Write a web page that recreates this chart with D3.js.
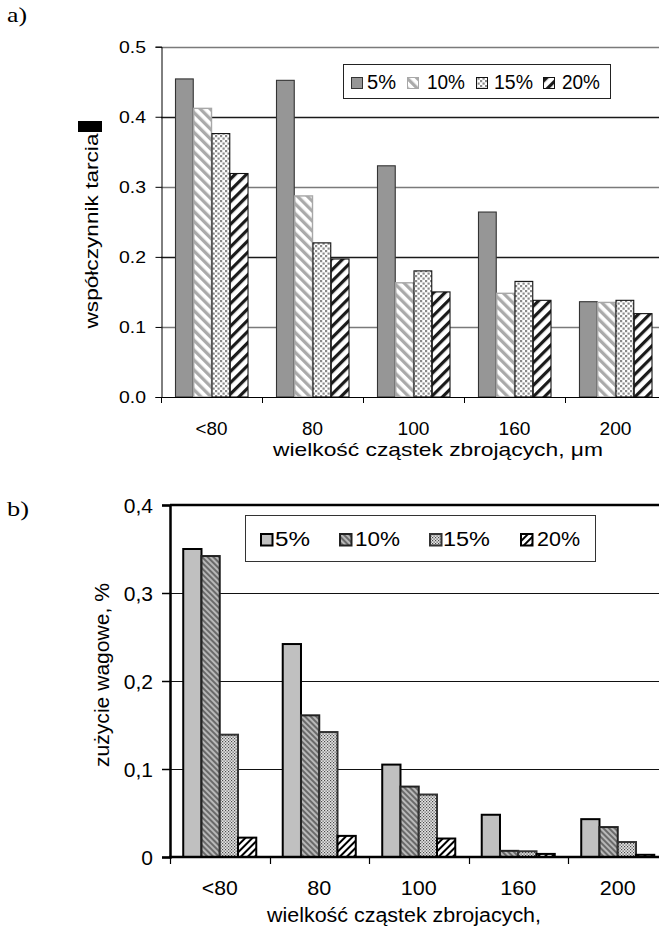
<!DOCTYPE html>
<html><head><meta charset="utf-8">
<script src="https://cdn.jsdelivr.net/npm/d3@7"></script>
<style>html,body{margin:0;padding:0;background:#fff}svg{display:block}</style>
</head><body>
<svg id="c" width="659" height="933"></svg>
<script>
// ---- data ----
const categories = ["<80", "80", "100", "160", "200"];
const seriesNames = ["5%", "10%", "15%", "20%"];
// a) friction coefficient
const friction5  = [0.454, 0.452, 0.330, 0.264, 0.136];
const friction10 = [0.412, 0.287, 0.163, 0.148, 0.135];
const friction15 = [0.376, 0.220, 0.180, 0.165, 0.138];
const friction20 = [0.319, 0.197, 0.150, 0.138, 0.119];
// b) weight loss
const wear5  = [0.350, 0.242, 0.105, 0.048, 0.043];
const wear10 = [0.342, 0.161, 0.080, 0.007, 0.034];
const wear15 = [0.139, 0.142, 0.071, 0.0065, 0.017];
const wear20 = [0.022, 0.024, 0.021, 0.0035, 0.0025];
const ticksA = [0, 0.1, 0.2, 0.3, 0.4, 0.5];
const tickLabelsA = ["0.0", "0.1", "0.2", "0.3", "0.4", "0.5"];
const ticksB = [0, 0.1, 0.2, 0.3, 0.4];
const tickLabelsB = ["0", "0,1", "0,2", "0,3", "0,4"];

const svg = d3.select("#c");
const defs = svg.append("defs");
const SANS = "Liberation Sans, Arial, Helvetica, sans-serif";
const SERIF = "Liberation Serif, Times New Roman, serif";

function stripes(id, w, lw, fg, bg, angle) {
  const p = defs.append("pattern").attr("id", id).attr("patternUnits", "userSpaceOnUse")
    .attr("width", w).attr("height", w).attr("patternTransform", `rotate(${angle})`);
  p.append("rect").attr("width", w).attr("height", w).attr("fill", bg);
  p.append("rect").attr("x", 0).attr("width", lw).attr("height", w).attr("fill", fg);
}
function dots(id, w, s, fg, bg) {
  const p = defs.append("pattern").attr("id", id).attr("patternUnits", "userSpaceOnUse")
    .attr("width", w).attr("height", w);
  p.append("rect").attr("width", w).attr("height", w).attr("fill", bg);
  p.append("rect").attr("x", 0).attr("y", 0).attr("width", s).attr("height", s).attr("fill", fg);
  p.append("rect").attr("x", w / 2).attr("y", w / 2).attr("width", s).attr("height", s).attr("fill", fg);
}
stripes("a10", 7, 3.3, "#aaaaaa", "#ffffff", -45);
dots("a15", 5, 2.2, "#8a8a8a", "#ffffff");
stripes("a20", 8, 3.2, "#1a1a1a", "#ffffff", 45);
stripes("b10", 4, 2, "#6a6a6a", "#b8b8b8", -45);
dots("b15", 3, 1.2, "#4a4a4a", "#e4e4e4");
stripes("b20", 5, 2, "#000000", "#ffffff", 45);

function txt(g, x, y, s, o) {
  const t = g.append("text").attr("x", x).attr("y", y).text(s)
    .attr("font-family", o.family || SANS).attr("font-size", o.size)
    .attr("fill", "#000").attr("text-anchor", o.anchor || "start");
  if (o.len) t.attr("textLength", o.len).attr("lengthAdjust", "spacingAndGlyphs");
  if (o.rot) t.attr("transform", `rotate(${o.rot},${x},${y})`);
  return t;
}

// ================= chart a =================
(function () {
  const g = svg.append("g");
  const x0 = d3.scaleBand().domain(categories).range([161, 666]).paddingInner(0.277).paddingOuter(0.1386);
  const x1 = d3.scaleBand().domain(seriesNames).range([0, x0.bandwidth()]);
  const y = d3.scaleLinear().domain([0, 0.5]).range([397, 46.7]);
  const data = [friction5, friction10, friction15, friction20];
  const fills = ["#969696", "url(#a10)", "url(#a15)", "url(#a20)"];
  const strokes = ["#333", "#a8a8a8", "#111", "#111"];

  // gridlines
  g.selectAll(".grid").data(ticksA.slice(1)).join("line")
    .attr("x1", 161).attr("x2", 659).attr("y1", d => Math.round(y(d)) + 0.5).attr("y2", d => Math.round(y(d)) + 0.5)
    .attr("stroke", (d, i) => i % 2 === 0 ? "#7a7a7a" : "#1a1a1a").attr("stroke-width", 1.3);

  // y axis
  const ya = d3.axisLeft(y).tickValues(ticksA).tickSize(6).tickFormat((d, i) => tickLabelsA[i]);
  const yg = g.append("g").attr("transform", "translate(161.5,0)").call(ya);
  yg.select(".domain").attr("stroke", "#000");
  yg.selectAll(".tick line").attr("stroke", "#000");
  yg.selectAll(".tick text").remove();
  ticksA.forEach((d, i) => txt(g, 146, y(d) + 6, tickLabelsA[i], { size: 17, anchor: "end", len: 27 }));

  // bars
  seriesNames.forEach((s, si) => {
    g.append("g").selectAll("rect").data(categories).join("rect")
      .attr("x", c => x0(c) + x1(s) + 0.5)
      .attr("y", (c, ci) => y(data[si][ci]))
      .attr("width", x1.bandwidth() - 0.5)
      .attr("height", (c, ci) => y(0) - y(data[si][ci]))
      .attr("fill", fills[si]).attr("stroke", strokes[si]).attr("stroke-width", si === 1 ? 1.4 : 1.1);
  });

  // x axis
  g.append("line").attr("x1", 161).attr("x2", 659).attr("y1", 397.5).attr("y2", 397.5).attr("stroke", "#000");
  const step = x0.step();
  d3.range(6).forEach(i => {
    const xx = Math.round(x0(categories[0]) - step * x0.paddingOuter() + i * step) + 0.5;
    g.append("line").attr("x1", xx).attr("x2", xx).attr("y1", 397).attr("y2", 403).attr("stroke", "#000");
  });
  categories.forEach(c => txt(g, x0(c) + x0.bandwidth() / 2, 435, c, { size: 18.5, anchor: "middle", len: c.length === 2 ? 21 : 32 }));
  txt(g, 438, 456, "wielkość cząstek zbrojących, μm", { size: 18.5, anchor: "middle", len: 330 });

  // y title
  txt(g, 98, 231, "współczynnik tarcia", { size: 18, anchor: "middle", rot: -90, len: 195 });
  g.append("rect").attr("x", 78).attr("y", 121).attr("width", 24).attr("height", 11).attr("fill", "#000");

  // panel label
  txt(g, 7, 22, "a)", { size: 21, family: SERIF, len: 20 });

  // legend
  g.append("rect").attr("x", 343.5).attr("y", 64.5).attr("width", 267).attr("height", 34)
    .attr("fill", "#fff").attr("stroke", "#222").attr("stroke-width", 1);
  const lx = [351, 407, 476, 543], tx = [367, 427, 494, 562], tl = [29, 38, 39, 38];
  seriesNames.forEach((s, i) => {
    g.append("rect").attr("x", lx[i] + 0.5).attr("y", 77.5).attr("width", 11).attr("height", 11)
      .attr("fill", fills[i]).attr("stroke", strokes[i]);
    txt(g, tx[i], 89, s, { size: 19.5, len: tl[i] });
  });
})();

// ================= chart b =================
(function () {
  const g = svg.append("g");
  const x0 = d3.scaleBand().domain(categories).range([170, 667.5]).paddingInner(0.266).paddingOuter(0.133);
  const x1 = d3.scaleBand().domain(seriesNames).range([0, x0.bandwidth()]);
  const y = d3.scaleLinear().domain([0, 0.4]).range([857, 505]);
  const data = [wear5, wear10, wear15, wear20];
  const fills = ["#c0c0c0", "url(#b10)", "url(#b15)", "url(#b20)"];
  const strokes = ["#000", "#222", "#333", "#000"];

  // gridlines
  g.selectAll(".grid").data(ticksB.slice(1, 4)).join("line")
    .attr("x1", 170).attr("x2", 659).attr("y1", d => Math.round(y(d)) + 0.5).attr("y2", d => Math.round(y(d)) + 0.5)
    .attr("stroke", "#111").attr("stroke-width", 1.2);
  g.append("line").attr("x1", 170).attr("x2", 659).attr("y1", y(0.4)).attr("y2", y(0.4))
    .attr("stroke", "#000").attr("stroke-width", 2.5);

  // bars
  seriesNames.forEach((s, si) => {
    g.append("g").selectAll("rect").data(categories).join("rect")
      .attr("x", c => x0(c) + x1(s))
      .attr("y", (c, ci) => y(data[si][ci]))
      .attr("width", x1.bandwidth())
      .attr("height", (c, ci) => y(0) - y(data[si][ci]))
      .attr("fill", fills[si]).attr("stroke", strokes[si]).attr("stroke-width", 2);
  });

  // y axis
  const ya = d3.axisLeft(y).tickValues(ticksB).tickSize(8).tickFormat((d, i) => tickLabelsB[i]);
  const yg = g.append("g").attr("transform", "translate(170,0)").call(ya);
  yg.select(".domain").attr("stroke", "#000").attr("stroke-width", 2.5);
  yg.selectAll(".tick line").attr("stroke", "#000").attr("stroke-width", 1.5);
  yg.selectAll(".tick text").remove();
  ticksB.forEach((d, i) => txt(g, 153, y(d) + 7.5, tickLabelsB[i], { size: 21, anchor: "end" }));

  // x axis
  g.append("line").attr("x1", 169).attr("x2", 659).attr("y1", 857).attr("y2", 857).attr("stroke", "#000").attr("stroke-width", 2.5);
  const step = x0.step();
  d3.range(6).forEach(i => {
    const xx = Math.round(x0(categories[0]) - step * x0.paddingOuter() + i * step) + 0.5;
    g.append("line").attr("x1", xx).attr("x2", xx).attr("y1", 857).attr("y2", 864).attr("stroke", "#000").attr("stroke-width", 1.2);
  });
  categories.forEach(c => txt(g, x0(c) + x0.bandwidth() / 2, 895, c, { size: 19.5, anchor: "middle", len: c.length === 2 ? 24 : 36 }));
  txt(g, 404, 922, "wielkość cząstek zbrojacych,", { size: 19.5, anchor: "middle", len: 274 });

  // y title
  txt(g, 109, 675, "zużycie wagowe, %", { size: 19.5, anchor: "middle", rot: -90, len: 184 });

  // panel label
  txt(g, 7, 516, "b)", { size: 22, family: SERIF, len: 22 });

  // legend
  g.append("rect").attr("x", 245.5).attr("y", 515.5).attr("width", 350).attr("height", 46)
    .attr("fill", "#fff").attr("stroke", "#333").attr("stroke-width", 1);
  const lx = [260, 339, 429, 520], tx = [275, 355, 443, 537], tl = [35, 45, 47, 43];
  seriesNames.forEach((s, i) => {
    g.append("rect").attr("x", lx[i] + 1).attr("y", 534).attr("width", 11.5).attr("height", 11.5)
      .attr("fill", fills[i]).attr("stroke", strokes[i]).attr("stroke-width", 2);
    txt(g, tx[i], 546, s, { size: 20, len: tl[i] });
  });
})();
</script>
</body></html>
